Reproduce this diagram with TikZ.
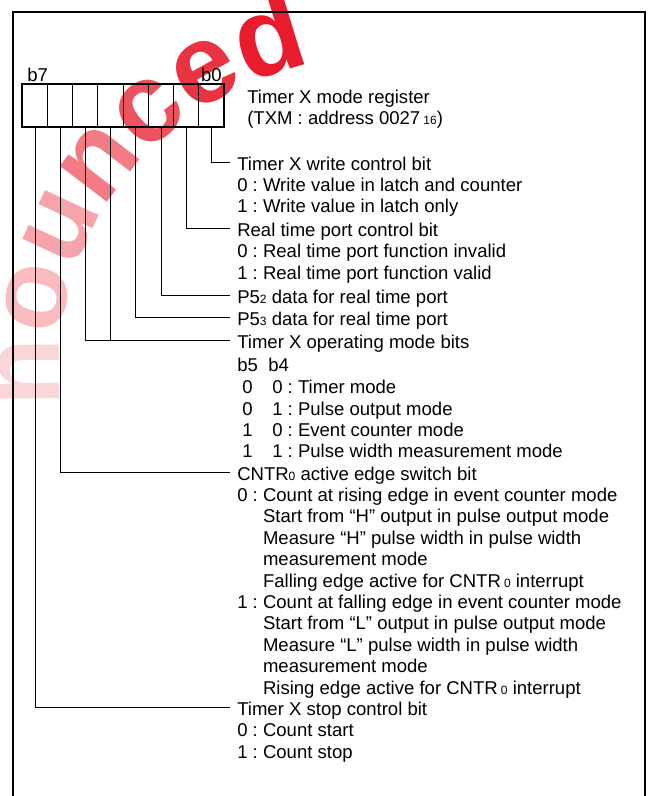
\documentclass[tikz,border=0pt]{standalone}
\usepackage{fontspec}
\setmainfont{Liberation Sans}
\usepackage{tikz}
\usetikzlibrary{positioning,decorations.text}
\definecolor{StampRed}{RGB}{232,28,44}
\newcommand\smalldig[1]{{\fontsize{9pt}{9pt}\selectfont #1}}
\newcommand\stampfont[1]{\fontsize{84pt}{84pt}\selectfont\bfseries\color{StampRed!#1}}
\frenchspacing

\begin{document}
\begin{tikzpicture}[x=0.75pt,y=-0.75pt,
  txt/.style={font=\fontsize{13.9pt}{16pt}\selectfont,anchor=base west,inner sep=0pt},
  ttl/.style={txt,inner xsep=5.25pt,text height=12pt,text depth=0pt},
  cell/.style={draw,line width=0.7pt,minimum width=18.9pt,minimum height=31.8pt,inner sep=0pt,outer sep=0pt},
  lead/.style={line width=0.6pt}]
  \useasboundingbox (0,0) rectangle (648,796);
  \begin{scope}
    \clip (0,0) rectangle (648,796);
    \path[decorate,decoration={text along path,text align=left,
      text={|\stampfont{18}|n|\stampfont{30}|o|\stampfont{40}|u|\stampfont{58}|n|\stampfont{76}|c|\stampfont{90}|e|\stampfont{100}|d}}]
      (61,406.3) arc[start angle=173.5,end angle=300,radius=312];
    \draw[line width=1.5pt] (12.7,810) |- (645,11.7) -- (645,810);
  \end{scope}

  % register
  \foreach \b in {0,...,7}
    \node[cell] (c\b) at ({34.9+25.2*(7-\b)},105.5) {};
  \draw[line width=1.5pt] (c7.north west) rectangle (c0.south east);
  \node[txt] (hi) at (27,81) {b7};
  \node[txt,anchor=base east] (lo) at (222,81) {b0};
  \node[txt] (reg) at (247,103) {Timer X mode register};
  \node[txt] (adr) at (247,124) {(TXM : address 0027\,\smalldig{16})};

  % bit descriptions
  \node[ttl] (t0) at (230,170) {Timer X write control bit};
  \node[txt] (d0a) at (237,191) {0 : Write value in latch and counter};
  \node[txt] (d0b) at (237,212.5) {1 : Write value in latch only};

  \node[ttl] (t1) at (230,236.5) {Real time port control bit};
  \node[txt] (d1a) at (237,257.8) {0 : Real time port function invalid};
  \node[txt] (d1b) at (237,279.2) {1 : Real time port function valid};

  \node[ttl] (t2) at (230,303) {P5\smalldig{2} data for real time port};
  \node[ttl] (t3) at (230,325) {P5\smalldig{3} data for real time port};

  \node[ttl] (t4) at (230,348) {Timer X operating mode bits};
  \node[txt] (m0) at (237,371) {b5\hspace{7.8pt}b4};
  \node[txt] (m1) at (237,393.5) {\hspace{3.75pt}0\hspace{14.8pt}0 : Timer mode};
  \node[txt] (m2) at (237,415) {\hspace{3.75pt}0\hspace{14.8pt}1 : Pulse output mode};
  \node[txt] (m3) at (237,436) {\hspace{3.75pt}1\hspace{14.8pt}0 : Event counter mode};
  \node[txt] (m4) at (237,457) {\hspace{3.75pt}1\hspace{14.8pt}1 : Pulse width measurement mode};

  \node[ttl] (t6) at (230,480) {CNTR\smalldig{0} active edge switch bit};
  \node[txt] (d6a) at (237,501.4) {0 : Count at rising edge in event counter mode};
  \node[txt] (d6b) at (237,522.8) {\phantom{0 : }Start from “H” output in pulse output mode};
  \node[txt] (d6c) at (237,544.2) {\phantom{0 : }Measure “H” pulse width in pulse width};
  \node[txt] (d6d) at (237,565.6) {\phantom{0 : }measurement mode};
  \node[txt] (d6e) at (237,587) {\phantom{0 : }Falling edge active for CNTR\,\smalldig{0} interrupt};
  \node[txt] (d6f) at (237,608.4) {1 : Count at falling edge in event counter mode};
  \node[txt] (d6g) at (237,629.8) {\phantom{1 : }Start from “L” output in pulse output mode};
  \node[txt] (d6h) at (237,651.2) {\phantom{1 : }Measure “L” pulse width in pulse width};
  \node[txt] (d6i) at (237,672.6) {\phantom{1 : }measurement mode};
  \node[txt] (d6j) at (237,694) {\phantom{1 : }Rising edge active for CNTR\,\smalldig{0} interrupt};

  \node[ttl] (t7) at (230,715.4) {Timer X stop control bit};
  \node[txt] (d7a) at (237,736.8) {0 : Count start};
  \node[txt] (d7b) at (237,758.2) {1 : Count stop};

  % leaders
  \draw[lead] (c0.south) |- (t0.west);
  \draw[lead] (c1.south) |- (t1.west);
  \draw[lead] (c2.south) |- (t2.west);
  \draw[lead] (c3.south) |- (t3.west);
  \draw[lead] (c5.south) |- (t4.west);
  \draw[lead] (c4.south) -- (c4.south |- t4.west);
  \draw[lead] (c6.south) |- (t6.west);
  \draw[lead] (c7.south) |- (t7.west);
\end{tikzpicture}
\end{document}
